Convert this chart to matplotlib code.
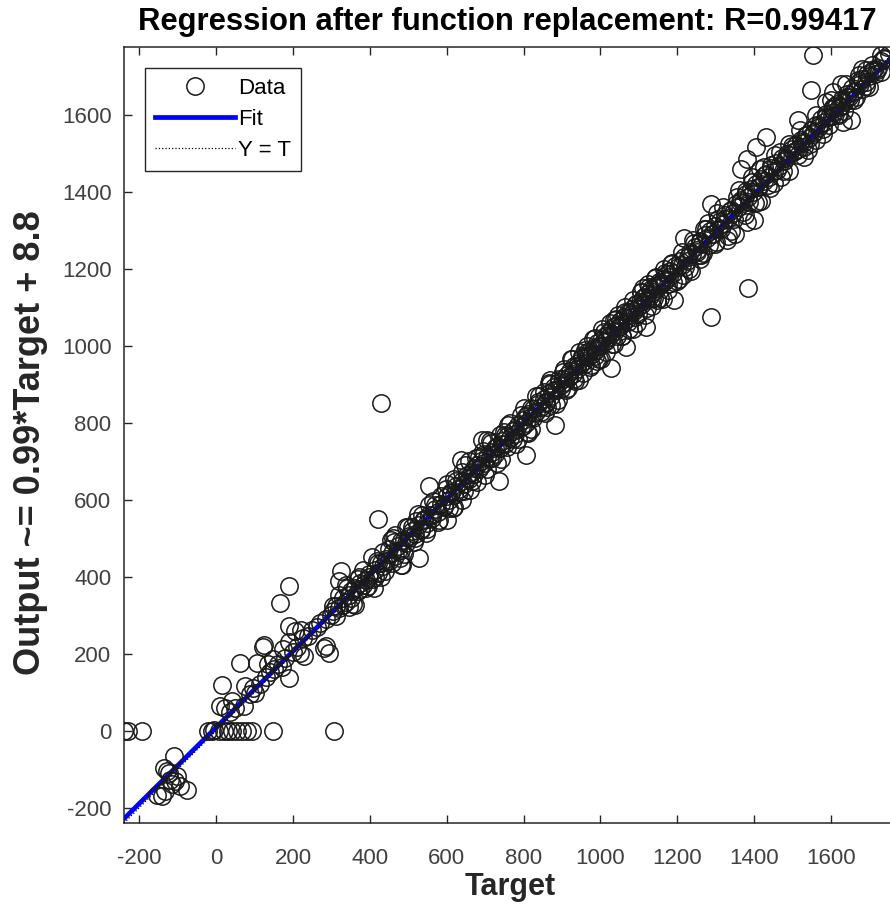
import matplotlib
matplotlib.use("Agg")
import matplotlib.pyplot as plt

plt.rcParams["font.family"] = ["Liberation Sans", "DejaVu Sans"]
plt.rcParams["axes.unicode_minus"] = False

# ---- data (target, output) ----
lower_t = [-111, -136, -123, -102, -93, -76, -154, -132, -141, -119, -128, -115, -107]
lower_o = [-67, -97, -110, -119, -145, -153, -166, -158, -171, -127, -104, -138, -131]

zero_t = [-240, -230, -192, -22, -12, -5, 8, 20, 30, 42, 55, 68, 80, 92, 147, 306]
zero_o = [0, 0, 0, 0, 0, 2, 0, 0, 0, 0, 0, 0, 0, 0, 0, 0]

low_t = [15, 11, 24, 42, 76, 72, 102, 63, 107, 124, 189, 219, 280, 293, 189, 166, 189,
         228, 285, 35, 50, 88, 95, 115, 130, 140, 150, 160, 170, 180, 200, 210, 225,
         240, 250, 262, 270, 285, 298, 135, 148, 175, 190, 205, 220, 121]
low_o = [119, 63, 59, 76, 115, 63, 98, 176, 176, 223, 137, 202, 215, 202, 375, 332, 271,
         193, 219, 48, 60, 96, 110, 120, 140, 152, 160, 172, 165, 190, 205, 218, 240,
         245, 262, 270, 280, 290, 300, 172, 185, 212, 230, 258, 262, 218]

mid_t = [324, 319, 410, 454, 480, 484, 527, 553, 601, 420, 428,
         305, 312, 320, 330, 338, 345, 352, 360, 368, 375, 382, 390, 398, 405, 412, 420,
         428, 435, 442, 450, 458, 465, 472, 480, 488, 495, 502, 510, 518, 525, 532, 540,
         548, 555, 562, 570, 578, 585, 592, 600, 340, 355, 372, 395, 418, 440, 462, 478,
         500, 515, 535, 545, 565, 580, 597, 520, 460,
         305, 312, 320, 330, 338, 345, 352, 360, 368, 375, 382, 390, 398, 405, 412, 420,
         428, 435, 442, 450, 458, 465, 472, 480, 488, 495, 502, 510, 518, 525, 532, 540,
         548, 555, 562, 570, 578, 585, 592, 600]
mid_o = [414, 388, 370, 496, 431, 431, 449, 635, 548, 551, 852,
         310, 325, 318, 345, 335, 352, 345, 372, 362, 385, 378, 392, 400, 395, 418, 410,
         435, 428, 445, 440, 462, 455, 480, 470, 495, 488, 500, 520, 510, 535, 525, 548,
         540, 560, 552, 575, 568, 590, 582, 610, 372, 330, 400, 375, 440, 415, 490, 450,
         530, 490, 560, 515, 598, 548, 628, 545, 500,
         324, 297, 352, 326, 379, 322, 363, 327, 394, 367, 418, 371, 406, 452, 400, 435,
         400, 464, 442, 473, 437, 508, 466, 493, 458, 529, 505, 530, 501, 563, 521, 549,
         523, 586, 560, 587, 542, 609, 583, 640]

upper_t = [636, 692, 705, 735, 805, 883, 870, 640,
           605, 612, 618, 625, 632, 640, 645, 652, 658, 665, 672, 678, 685, 690, 698, 705,
           712, 718, 725, 730, 738, 745, 752, 758, 765, 772, 778, 785, 792, 798, 805, 812,
           818, 825, 832, 838, 845, 852, 858, 865, 872, 878, 885, 892, 898,
           620, 648, 660, 675, 700, 715, 740, 760, 780, 800, 820, 840, 855, 868, 890, 615,
           695, 750, 810, 862,
           605, 612, 618, 625, 632, 640, 645, 652, 658, 665, 672, 678, 685, 690, 698, 705,
           712, 718, 725, 730, 738, 745, 752, 758, 765, 772, 778, 785, 792, 798, 805, 812,
           818, 825, 832, 838, 845, 852, 858, 865, 872, 878, 885, 892, 898]
upper_o = [704, 756, 756, 648, 717, 795, 912, 600,
           600, 618, 612, 635, 628, 650, 640, 665, 655, 672, 668, 690, 680, 702, 695, 712,
           708, 725, 720, 740, 735, 752, 745, 765, 760, 780, 772, 795, 788, 808, 800, 822,
           815, 835, 828, 850, 842, 862, 855, 878, 870, 892, 885, 905, 898,
           655, 690, 625, 710, 665, 748, 705, 795, 745, 838, 785, 870, 825, 900, 860, 580,
           728, 775, 775, 840,
           579, 620, 582, 648, 621, 673, 623, 657, 702, 650, 684, 647, 711, 687, 718, 681,
           752, 709, 735, 697, 769, 745, 769, 738, 800, 758, 784, 757, 820, 793, 819, 773,
           839, 813, 869, 854, 827, 881, 851, 903, 846, 886, 849, 915, 887]

k_t = [1027, 1066, 1118, 1191, 1217, 1256,
       902, 908, 912, 918, 922, 928, 932, 938, 942, 948, 952, 958, 962, 968, 972, 978,
       982, 988, 992, 998, 1002, 1008, 1012, 1018, 1022, 1028, 1032, 1038, 1042, 1048,
       1052, 1058, 1062, 1068, 1072, 1078, 1082, 1088, 1092, 1098, 1102, 1108, 1112,
       1118, 1122, 1128, 1132, 1138, 1142, 1148, 1152, 1158, 1162, 1168, 1172, 1178,
       1182, 1188, 1195,
       905, 915, 925, 935, 945, 955, 965, 975, 985, 995, 1005, 1015, 1025, 1035, 1045,
       1055, 1065, 1075, 1085, 1095, 1105, 1115, 1125, 1135, 1145, 1155, 1165, 1175,
       1185, 1198, 960, 990, 1040, 1090, 1140, 1110,
       903, 910, 917, 924, 931, 938, 945, 952, 959, 966, 973, 980, 987, 994, 1001, 1008,
       1015, 1022, 1029, 1036, 1043, 1050, 1057, 1064, 1071, 1078, 1085, 1092, 1099,
       1106, 1113, 1120, 1127, 1134, 1141, 1148, 1155, 1162, 1169, 1176, 1183, 1190]
k_o = [942, 998, 1050, 1119, 1280, 1236,
       915, 905, 925, 918, 935, 928, 948, 940, 955, 950, 968, 960, 975, 970, 988, 980,
       995, 990, 1008, 1000, 1015, 1010, 1025, 1020, 1035, 1030, 1048, 1040, 1055, 1050,
       1065, 1060, 1075, 1070, 1088, 1080, 1095, 1090, 1108, 1100, 1115, 1110, 1125,
       1120, 1135, 1130, 1148, 1140, 1155, 1150, 1165, 1160, 1175, 1170, 1188, 1180,
       1195, 1190, 1208,
       940, 890, 965, 910, 985, 930, 1000, 950, 1020, 965, 1045, 985, 1060, 1005, 1080,
       1025, 1100, 1045, 1120, 1060, 1140, 1080, 1160, 1105, 1180, 1125, 1200, 1145,
       1215, 1170, 990, 960, 1070, 1075, 1125, 1150,
       933, 885, 919, 965, 913, 947, 911, 975, 953, 983, 946, 1017, 975, 1001, 965, 1036,
       1012, 1036, 1006, 1068, 1026, 1053, 1026, 1089, 1063, 1089, 1043, 1110, 1084,
       1140, 1126, 1099, 1153, 1124, 1176, 1119, 1160, 1123, 1189, 1162, 1213, 1165]

hi_t = [1287, 1383, 1287, 1304, 1365, 1382, 1404, 1430, 1330, 1382, 1400, 1261,
        1202, 1208, 1212, 1218, 1225, 1232, 1238, 1245, 1252, 1258, 1265, 1272, 1278,
        1285, 1292, 1298, 1305, 1312, 1318, 1325, 1332, 1338, 1345, 1352, 1358, 1365,
        1372, 1378, 1385, 1392, 1398, 1405, 1412, 1418, 1425, 1432, 1438, 1445, 1452,
        1458, 1465, 1472, 1478, 1485, 1492, 1498,
        1215, 1240, 1260, 1280, 1300, 1320, 1340, 1360, 1375, 1395, 1410, 1425, 1440,
        1455, 1470, 1490, 1350, 1415, 1230, 1270,
        1204, 1211, 1219, 1227, 1235, 1243, 1251, 1259, 1267, 1275, 1283, 1291, 1299,
        1307, 1315, 1323, 1331, 1339, 1347, 1355, 1363, 1371, 1379, 1387, 1395, 1403,
        1411, 1419, 1427, 1435, 1443, 1451, 1459, 1467, 1475, 1483, 1491, 1499]
hi_o = [1076, 1150, 1370, 1345, 1461, 1487, 1518, 1544, 1275, 1323, 1327, 1236,
        1205, 1222, 1210, 1230, 1222, 1245, 1238, 1258, 1250, 1272, 1265, 1288, 1280,
        1298, 1290, 1312, 1305, 1325, 1318, 1340, 1332, 1352, 1345, 1368, 1360, 1380,
        1372, 1395, 1388, 1408, 1400, 1420, 1412, 1435, 1428, 1448, 1440, 1462, 1455,
        1475, 1468, 1488, 1480, 1500, 1495, 1512,
        1185, 1275, 1225, 1320, 1270, 1360, 1300, 1405, 1340, 1440, 1375, 1465, 1410,
        1495, 1440, 1525, 1290, 1460, 1200, 1305,
        1174, 1245, 1204, 1231, 1196, 1268, 1245, 1270, 1241, 1304, 1263, 1291, 1265,
        1329, 1304, 1331, 1286, 1354, 1329, 1386, 1373, 1347, 1402, 1374, 1427, 1371,
        1413, 1377, 1444, 1418, 1470, 1423, 1458, 1505, 1454, 1489, 1454, 1519]

top_t = [1552, 1547, 1604, 1513, 1651, 1630, 1530, 1625,
         1502, 1508, 1515, 1522, 1528, 1535, 1542, 1548, 1555, 1562, 1568, 1575, 1582,
         1588, 1595, 1602, 1608, 1615, 1622, 1628, 1635, 1642, 1648, 1655, 1662, 1669,
         1675, 1682, 1695, 1700, 1712, 1720, 1730, 1738, 1745, 1750, 1729, 1708, 1690,
         1672,
         1520, 1540, 1560, 1580, 1600, 1586, 1604, 1620, 1640, 1660, 1680, 1690,
         1506, 1514, 1522, 1530, 1538, 1546, 1554, 1562, 1570, 1578, 1586, 1594, 1602,
         1610, 1618, 1626, 1634, 1642, 1650, 1658, 1666, 1674, 1682, 1690, 1698, 1706,
         1714, 1722, 1730, 1738]
top_o = [1756, 1665, 1660, 1587, 1587, 1583, 1492, 1682,
         1505, 1522, 1512, 1535, 1528, 1548, 1540, 1562, 1555, 1575, 1568, 1590, 1582,
         1602, 1595, 1615, 1608, 1630, 1622, 1642, 1635, 1655, 1648, 1670, 1662, 1691,
         1680, 1695, 1708, 1702, 1721, 1718, 1740, 1745, 1777, 1760, 1756, 1730, 1717,
         1704,
         1560, 1510, 1600, 1550, 1640, 1635, 1622, 1600, 1680, 1640, 1720, 1675,
         1506, 1497, 1529, 1518, 1549, 1525, 1550, 1536, 1574, 1564, 1595, 1575, 1597,
         1624, 1602, 1624, 1610, 1647, 1640, 1660, 1646, 1686, 1669, 1687, 1673, 1714,
         1706, 1723, 1712, 1748]

target = lower_t + zero_t + low_t + mid_t + upper_t + k_t + hi_t + top_t
output = lower_o + zero_o + low_o + mid_o + upper_o + k_o + hi_o + top_o

slope, offset = 0.99, 8.8
lims = [-240, 1777]
title = "Regression after function replacement: R=0.99417"

# ---- plot ----
fig = plt.figure(figsize=(8.9, 9.11), dpi=100)
ax = fig.add_axes([124 / 890, 88 / 911, 775 / 890, 776 / 911])

ax.plot(lims, [slope * v + offset for v in lims], color="blue", lw=3.4, label="Fit", zorder=2)
ax.plot(lims, lims, ":", color="black", lw=0.9, label="Y = T", zorder=3)
ax.plot(target, output, "o", mfc="none", mec="#1a1a1a", mew=1.1, ms=12.5,
        label="Data", zorder=4)

ax.set_xlim(lims)
ax.set_ylim(lims)
ticks = list(range(-200, 1601, 200))
ax.set_xticks(ticks)
ax.set_yticks(ticks)
ax.tick_params(direction="in", length=6, width=1, top=True, right=True,
               labelsize=16, colors="#262626", labelcolor="#404040")
ax.tick_params(axis="x", pad=18)
ax.tick_params(axis="y", pad=9)
for s in ax.spines.values():
    s.set_color("#262626")
    s.set_linewidth(1.1)

ax.set_title(title, fontsize=22.3, fontweight="bold", color="black", pad=12, x=0.495)
ax.set_xlabel("Target", fontsize=22, fontweight="bold", color="#262626", va="center")
ax.set_ylabel("Output ~= 0.99*Target + 8.8", fontsize=26, fontweight="bold",
              color="#262626", va="center")
ax.xaxis.set_label_coords(0.498, -0.082)
ax.yaxis.set_label_coords(-0.121, 0.49)

h, l = ax.get_legend_handles_labels()
order = [2, 0, 1]
leg = ax.legend([h[i] for i in order], [l[i] for i in order], loc="upper left",
                bbox_to_anchor=(0.027, 0.973), borderaxespad=0, fancybox=False,
                edgecolor="#262626", framealpha=1, fontsize=16, handlelength=3.6,
                handletextpad=0.15, labelspacing=0.45, borderpad=0.45, numpoints=1)
leg.get_frame().set_linewidth(1.0)

fig.savefig("out.png", dpi=100)
